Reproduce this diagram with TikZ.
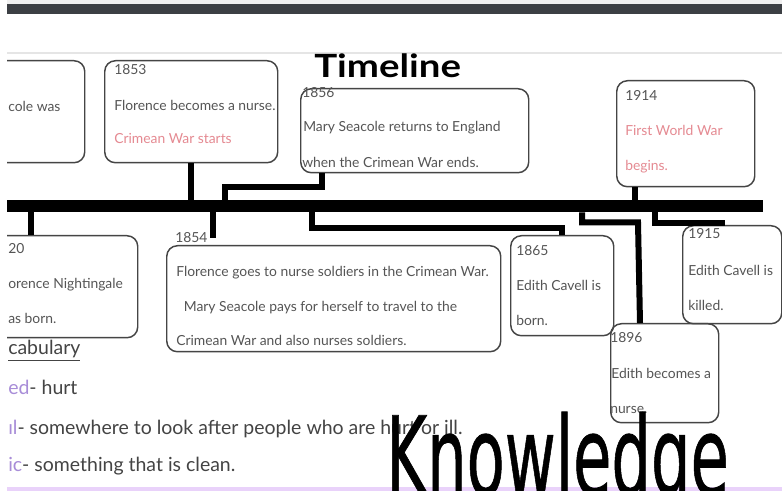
\documentclass[tikz,border=0pt]{standalone}
\usepackage{fontspec}
\setmainfont{Lato}
\newfontfamily\knowfont[FakeBold=0.8]{DejaVu Sans}
\usetikzlibrary{calc, positioning}

\definecolor{topbar}{HTML}{3C3F44}
\definecolor{boxline}{HTML}{454545}
\definecolor{boxtext}{HTML}{555555}
\definecolor{warpink}{HTML}{E58A92}
\definecolor{vocpurple}{HTML}{A88DD8}
\definecolor{voctext}{HTML}{444444}
\definecolor{lilac}{HTML}{E9D2FA}

\begin{document}
\begin{tikzpicture}[x=0.75pt, y=-0.75pt,
    evt/.style 2 args={draw=boxline, line width=1.1pt, rounded corners=8pt,
      anchor=north west, inner sep=0, minimum width=#1*0.75pt, minimum height=#2*0.75pt},
    txt/.style={anchor=base west, inner sep=0, text=boxtext, font=\fontsize{10.4}{12}\selectfont},
    war/.style={txt, text=warpink},
    voc/.style={anchor=base west, inner sep=0, text=voctext, font=\fontsize{14.6}{16}\selectfont},
    link/.style={line width=4.5pt},
  ]
  \useasboundingbox (0,0) rectangle (782,491);
  \fill[white] (0,0) rectangle (782,491);

  \begin{scope}
    \clip (7,0) rectangle (782,491);

    % Page frame
    \fill[black!6] (7,0) rectangle (782,4);
    \fill[topbar] (7,4) rectangle (782,14);
    \draw[black!10, line width=0.8pt] (7,53) -- (782,53);
    \fill[lilac] (7,487) rectangle (782,491);

    \node[anchor=base west, inner sep=0, font=\fontsize{24}{28}\selectfont\bfseries] (title) at (314,78) {\scalebox{1.2}[1]{Timeline}};

    % Events above the axis
    \node[evt={110}{102}] (b1799) at (-26,60) {};
    \node[txt] (t1799a) at (8,112) {cole was};

    \node[evt={173}{102}] (b1853) at (104,60) {};
    \node[txt] (t1853a) at (114,75) {1853};
    \node[txt] (t1853b) at (114,111) {Florence becomes a nurse.};
    \node[war] (t1853c) at (114,144) {Crimean War starts};

    \node[evt={228}{84}] (b1856) at (300,88) {};
    \node[txt] (t1856a) at (302,98) {1856};
    \node[txt] (t1856b) at (303,132) {Mary Seacole returns to England};
    \node[txt] (t1856c) at (302,168) {when the Crimean War ends.};

    \node[evt={138}{106}] (b1914) at (616,80) {};
    \node[txt] (t1914a) at (625,101) {1914};
    \node[war] (t1914b) at (625,136) {First World War};
    \node[war] (t1914c) at (625,171) {begins.};

    % The axis
    \node[fill=black, inner sep=0, minimum width=756*0.75pt, minimum height=12*0.75pt, anchor=west] (axis) at (7,206) {};

    % Events below the axis
    \node[evt={163}{102}] (b1820) at (-26,235) {};
    \node[txt] (t1820a) at (8,254) {20};
    \node[txt] (t1820b) at (8,289) {orence Nightingale};
    \node[txt] (t1820c) at (8,324) {as born.};

    \node[txt] (l1854) at (175,243) {1854};
    \node[evt={334}{106}] (b1854) at (166,245) {};
    \node[txt] (t1854a) at (176,277) {Florence goes to nurse soldiers in the Crimean War.};
    \node[txt] (t1854b) at (180,312) {\ Mary Seacole pays for herself to travel to the};
    \node[txt] (t1854c) at (176,346) {Crimean War and also nurses soldiers.};

    \node[evt={103}{100}] (b1865) at (510,235) {};
    \node[txt] (t1865a) at (516,256) {1865};
    \node[txt] (t1865b) at (516,291) {Edith Cavell is};
    \node[txt] (t1865c) at (516,326) {born.};

    \node[evt={108}{99}] (b1896) at (610,323) {};
    \node[txt] (t1896a) at (610,343) {1896};
    \node[txt] (t1896b) at (611,379) {Edith becomes a};
    \node[txt] (t1896c) at (610,414) {nurse.};

    \node[evt={99}{98}] (b1915) at (682,225) {};
    \node[txt] (t1915a) at (688,239) {1915};
    \node[txt] (t1915b) at (688,276) {Edith Cavell is};
    \node[txt] (t1915c) at (688,311) {killed.};

    % Where the links leave the boxes and the axis
    \coordinate (d1856) at ($(b1856.south west)+(22,0)$);
    \coordinate (d1914) at ($(b1914.south west)+(19,0)$);
    \coordinate (u1820) at ($(axis.south west)+(24,0)$);
    \coordinate (u1854) at ($(axis.south west)+(206,0)$);
    \coordinate (u1865) at ($(axis.south west)+(305,0)$);
    \coordinate (u1896) at ($(axis.south west)+(575,0)$);
    \coordinate (u1915) at ($(axis.south west)+(648,0)$);

    % Connect the events to the axis
    \draw[link] (b1853.south) -- (b1853.south |- axis.north);
    \draw[link] (d1856) -- ++(0,14) -| ($(axis.north west)+(218,0)$);
    \draw[link] (d1914) -- (d1914 |- axis.north);
    \draw[link] (u1820) -- (u1820 |- b1820.north);
    \draw[link] (u1854) -- (u1854 |- l1854.east);
    \draw[link] (u1865) -- ++(0,16) -| (b1865.north);
    \draw[link] (u1896) -- ++(0,10) -- ++(56,0) -- ($(b1896.north west)+(30,0)$);
    \draw[link] (u1915) |- ($(b1915.north west)+(43,-2)$);

    % Vocabulary
    \node[voc] (vhead) at (8,355) {\underline{cabulary}};
    \node[voc] (v1) at (8,395) {\textcolor{vocpurple}{ed}- hurt};
    \node[voc] (v2) at (8,435) {\textcolor{vocpurple}{ıl}- somewhere to look after people who are hurt or ill.};
    \node[voc] (v3) at (8,472) {\textcolor{vocpurple}{ic}- something that is clean.};

    \node[anchor=base west, inner sep=0, font=\knowfont\fontsize{82}{82}\selectfont] (know) at (386,495) {\scalebox{0.57}[1]{Knowledge}};
  \end{scope}
\end{tikzpicture}
\end{document}
